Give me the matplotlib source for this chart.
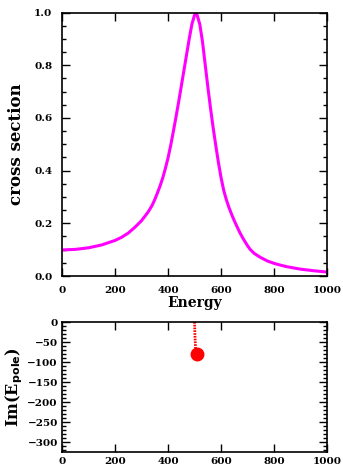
import matplotlib
matplotlib.use("Agg")
import matplotlib.pyplot as plt
from matplotlib.ticker import MultipleLocator

# cross section
energy = [0, 50, 100, 150, 200, 225, 250, 275, 300, 325, 340, 350, 360, 370,
          380, 390, 400, 410, 420, 430, 440, 450, 460, 470, 480, 490, 500,
          505, 510, 520, 530, 540, 550, 560, 570, 580, 590, 600, 610, 620,
          630, 640, 650, 660, 670, 680, 690, 700, 710, 725, 740, 750, 775,
          800, 825, 850, 900, 950, 1000]
sigma = [0.099, 0.101, 0.107, 0.118, 0.135, 0.147, 0.163, 0.185, 0.21, 0.243,
         0.268, 0.29, 0.315, 0.342, 0.372, 0.408, 0.448, 0.495, 0.548, 0.603,
         0.66, 0.72, 0.78, 0.84, 0.9, 0.955, 0.99, 0.998, 0.99, 0.955, 0.89,
         0.805, 0.72, 0.64, 0.565, 0.497, 0.432, 0.374, 0.326, 0.29, 0.26,
         0.234, 0.21, 0.188, 0.167, 0.148, 0.131, 0.115, 0.101, 0.086, 0.076,
         0.07, 0.057, 0.048, 0.041, 0.035, 0.026, 0.02, 0.015]

# pole trajectory
re_traj = [500, 502, 505]
im_traj = [0, -40, -80]
re_pole = [508]
im_pole = [-81]

plt.rcParams['font.family'] = ['DejaVu Serif']
plt.rcParams['font.weight'] = 'bold'

fig = plt.figure(figsize=(3.43, 4.69), dpi=100)
ax1 = fig.add_axes([0.1808, 0.4115, 0.7726, 0.5618])
ax2 = fig.add_axes([0.1808, 0.0355, 0.7726, 0.2779])

ax1.plot(energy, sigma, color='#ff00ff', lw=2.2)
ax1.set_xlim(0, 1000)
ax1.set_ylim(0, 1)
ax1.xaxis.set_major_locator(MultipleLocator(200))
ax1.yaxis.set_major_locator(MultipleLocator(0.2))
ax1.yaxis.set_minor_locator(MultipleLocator(0.05))
ax1.yaxis.set_major_formatter(plt.FormatStrFormatter('%.1f'))
ax1.set_xlabel('Energy', fontsize=10, fontweight='bold', labelpad=1)
ax1.set_ylabel('cross section', fontsize=12, fontweight='bold')
ax1.yaxis.set_label_coords(-0.14, 0.5)

ax2.plot(re_traj, im_traj, color='red', lw=2, linestyle=(0, (0.6, 0.4)))
ax2.plot(re_pole, im_pole, 'o', color='red', ms=9)
ax2.set_xlim(0, 1000)
ax2.set_ylim(-325, 0)
ax2.xaxis.set_major_locator(MultipleLocator(200))
ax2.yaxis.set_major_locator(MultipleLocator(50))
ax2.yaxis.set_minor_locator(MultipleLocator(10))
ax2.set_ylabel(r'Im(E$_{\mathbf{pole}}$)', fontsize=11.5, fontweight='bold')
ax2.yaxis.set_label_coords(-0.14, 0.5)

for ax in (ax1, ax2):
    ax.tick_params(which='both', direction='in', top=True, right=True,
                   labelsize=7.5, width=1)
    ax.tick_params(which='major', length=5.5)
    ax.tick_params(which='minor', length=3)
    for lab in ax.get_xticklabels() + ax.get_yticklabels():
        lab.set_fontweight('bold')
    for s in ax.spines.values():
        s.set_linewidth(1.2)
ax1.tick_params(axis='both', pad=7)
ax2.tick_params(axis='y', pad=3)
ax2.tick_params(axis='x', pad=3)

fig.savefig('out.png', dpi=100)
